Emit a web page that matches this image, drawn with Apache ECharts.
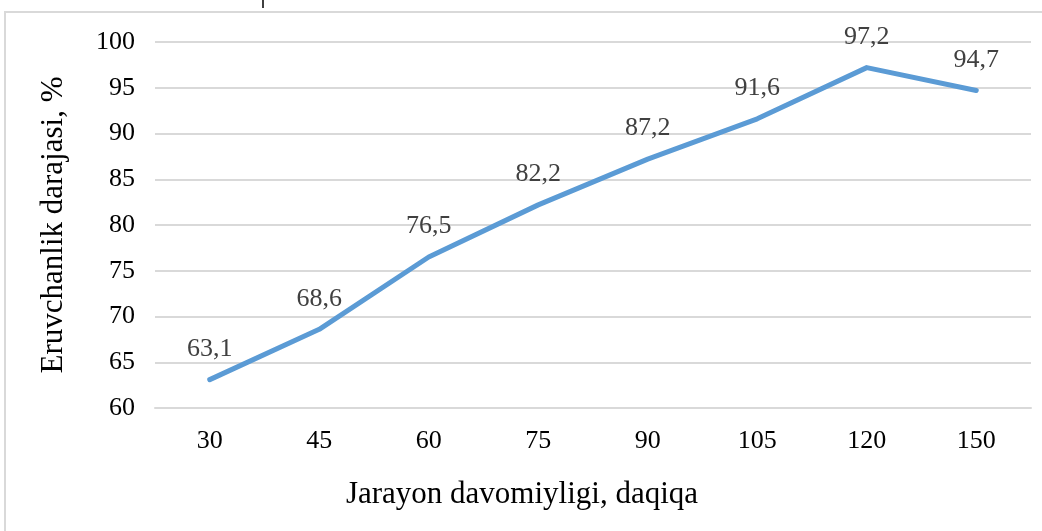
<!DOCTYPE html>
<html><head><meta charset="utf-8">
<script src="https://cdn.jsdelivr.net/npm/echarts@6/dist/echarts.min.js"></script>
<style>html,body{margin:0;padding:0;background:#fff;}#c{width:1042px;height:531px;}</style>
</head><body><div id="c"></div>
<script>
const categories = ['30','45','60','75','90','105','120','150'];
const values = [63.1, 68.6, 76.5, 82.2, 87.2, 91.6, 97.2, 94.7];
const yTitle = 'Eruvchanlik darajasi, %';
const xTitle = 'Jarayon davomiyligi, daqiqa';
const font = '"Liberation Serif", "Times New Roman", serif';
const chart = echarts.init(document.getElementById('c'));
chart.setOption({
  animation: false,
  backgroundColor: '#fff',
  grid: {left: 155, right: 11, top: 42, bottom: 123},
  xAxis: {
    type: 'category', data: categories, boundaryGap: true,
    axisLine: {lineStyle: {color: '#d9d9d9', width: 2}},
    axisTick: {show: false},
    axisLabel: {color: '#000', fontFamily: font, fontSize: 26, margin: 20}
  },
  yAxis: {
    type: 'value', min: 60, max: 100, interval: 5,
    name: yTitle, nameLocation: 'middle', nameGap: 86, nameRotate: 90,
    nameTextStyle: {color: '#000', fontFamily: font, fontSize: 31},
    axisLine: {show: false}, axisTick: {show: false},
    axisLabel: {color: '#000', fontFamily: font, fontSize: 26, margin: 20},
    splitLine: {lineStyle: {color: '#d9d9d9', width: 2}}
  },
  series: [{
    type: 'line', data: values, showSymbol: true, symbol: 'circle', symbolSize: 1,
    itemStyle: {color: 'rgba(0,0,0,0)', borderWidth: 0},
    lineStyle: {color: '#5b9bd5', width: 5, cap: 'round', join: 'round'},
    label: {show: true, position: 'top', distance: 17, color: '#404040', fontFamily: font, fontSize: 26,
      formatter: p => String(p.value).replace('.', ',')}
  }],
  graphic: [
    {type: 'rect', shape: {x: 5, y: 12, width: 1060, height: 560}, style: {fill: null, stroke: '#d9d9d9', lineWidth: 2}, silent: true},
    {type: 'line', shape: {x1: 263, y1: 0, x2: 263, y2: 8}, style: {stroke: '#000', lineWidth: 1.5}, silent: true},
    {type: 'text', style: {text: xTitle, x: 522, y: 495, align: 'center', verticalAlign: 'middle', fill: '#000', font: '31px ' + font}, silent: true}
  ]
});
</script></body></html>
